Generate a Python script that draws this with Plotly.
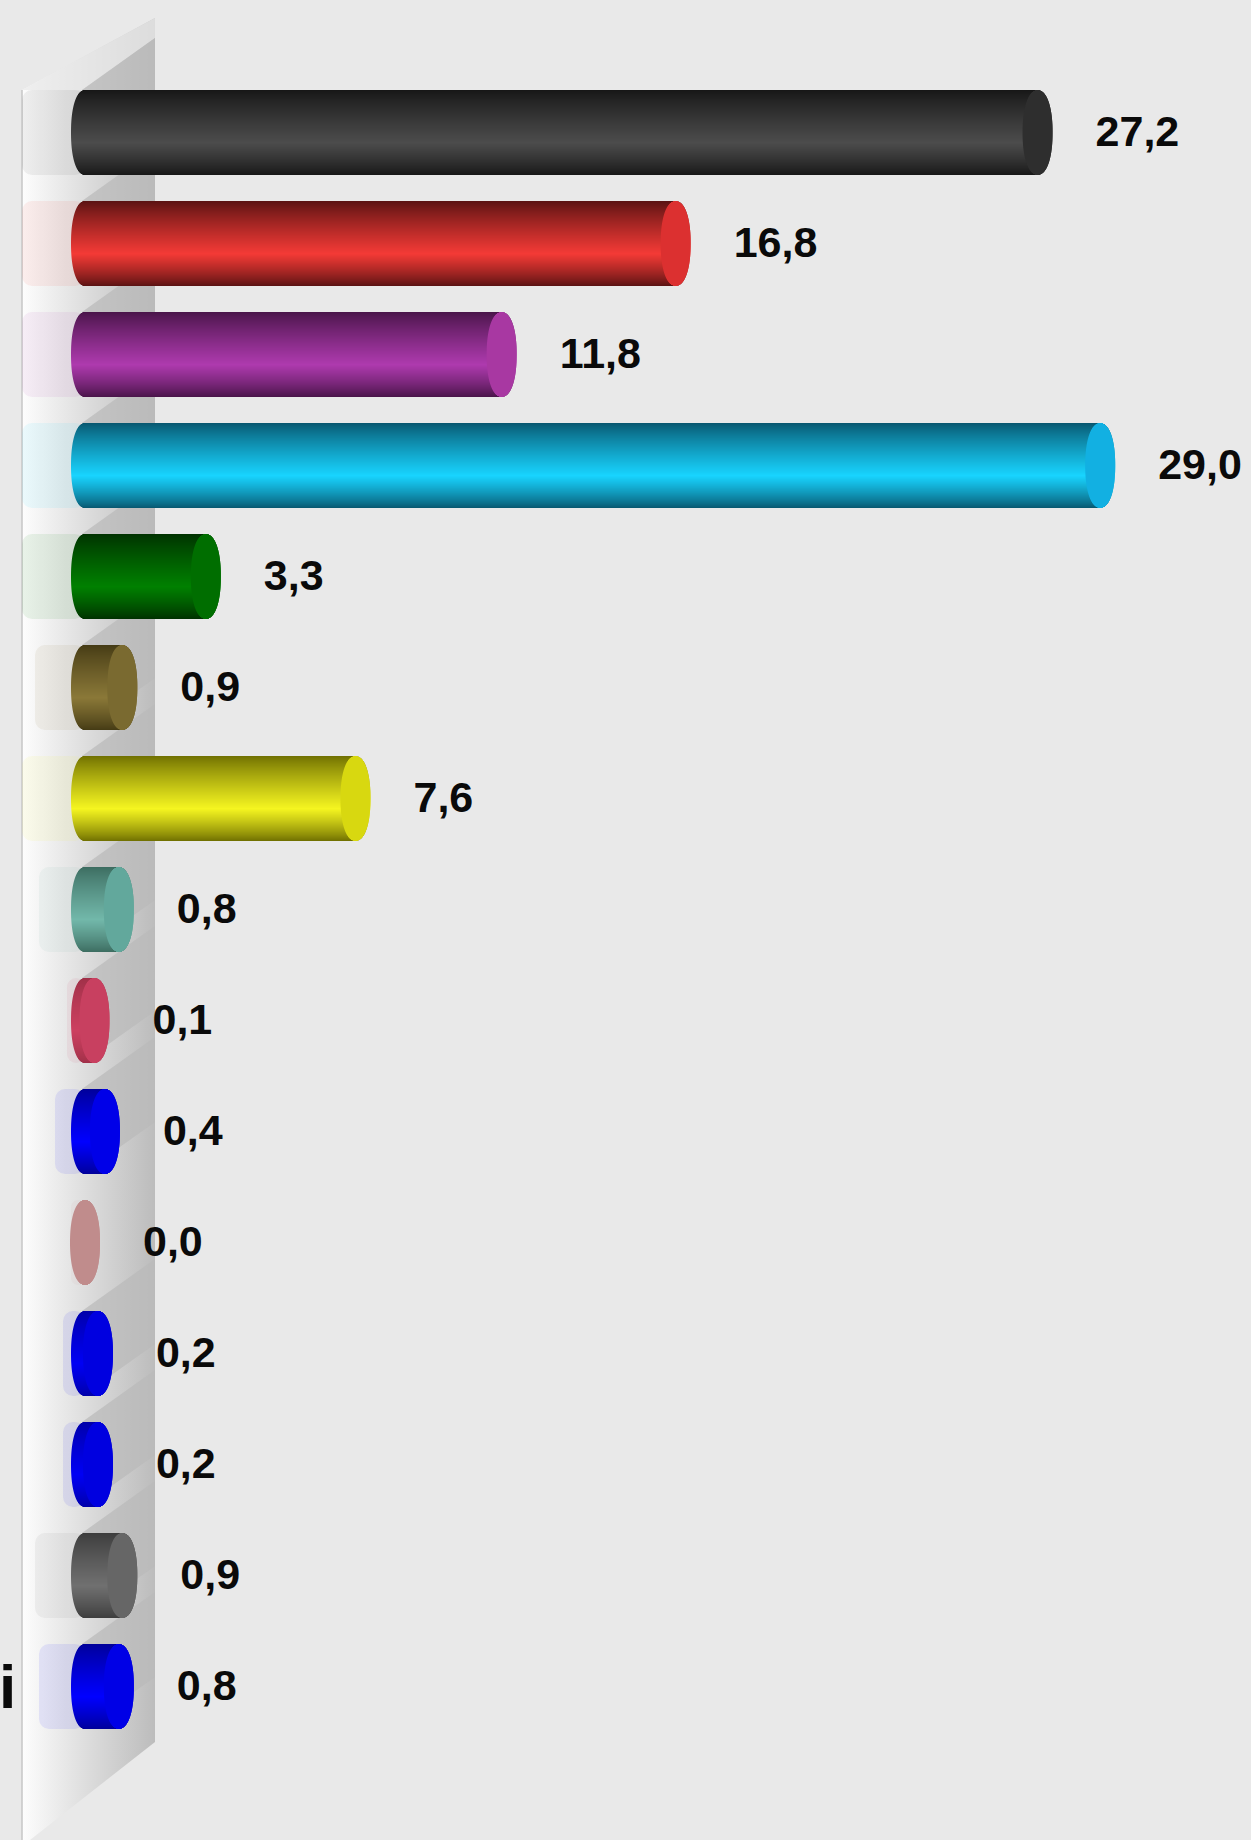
import plotly.graph_objects as go

# ---- data ----
labels = ["27,2", "16,8", "11,8", "29,0", "3,3", "0,9", "7,6", "0,8", "0,1", "0,4", "0,0", "0,2", "0,2", "0,9", "0,8"]
values = [27.2, 16.8, 11.8, 29.0, 3.3, 0.9, 7.6, 0.8, 0.1, 0.4, 0.0, 0.2, 0.2, 0.9, 0.8]
category_ticks = [""] * 14 + ["i"]
highlight = ["#4c4c4c", "#f43a36", "#ae3aae", "#18d4ff", "#008000", "#8a7838", "#f5f520", "#72b8aa", "#cc4060",
             "#0000ff", "#c89494", "#0000f4", "#0000f4", "#707070", "#0000ff"]
shade = ["#161616", "#581212", "#481448", "#08566e", "#003000", "#443a14", "#6e6e00", "#3c6c60", "#a03048",
         "#000098", "#b88888", "#0000a8", "#0000a8", "#3c3c3c", "#000098"]
cap_color = ["#2e2e2e", "#dc3030", "#a838a2", "#12b0e2", "#006e00", "#7a6a30", "#d8d810", "#62a89c", "#c84060",
             "#0000e8", "#c08c8c", "#0000e0", "#0000e0", "#666666", "#0000e6"]

# ---- geometry in page pixels ----
W, H = 1251, 1840
PX_PER_UNIT = 34.8
ZERO_PX = 91.0
FIRST_PX, STEP_PX = 132.5, 111.0
BAR_PX, BODY_RX_PX, CAP_RX_PX = 85.0, 14.0, 15.0
LEFT_CAP_PX = 85.0
WALL_LEFT_PX, WALL_RIGHT_PX = 22.0, 155.0
SHADOW_RISE_PX = 52.0
N_BANDS = 85
LABEL_GAP_PX = 58.0
BG = "#e9e9e9"


def dx(px):
    return (px - ZERO_PX) / PX_PER_UNIT


def dy(py):
    return (py - FIRST_PX) / STEP_PX


def rgb(c):
    return tuple(int(c[i:i + 2], 16) for i in (1, 3, 5))


def mix(a, b, f):
    ra, rb = rgb(a), rgb(b)
    return "rgb(%d,%d,%d)" % tuple(round(x + (y - x) * f) for x, y in zip(ra, rb))


def band_color(i, t):
    # t runs 0 (top) to 1 (bottom); brightest a little under the middle
    peak = 0.62
    if t < peak:
        f = (t / peak) ** 0.85
    else:
        f = ((1 - t) / (1 - peak)) ** 0.85
    return mix(shade[i], highlight[i], f)


def half_width(t, rx):
    u = abs(2 * t - 1)
    return rx * max(0.15, (1 - u ** 2.2) ** (1 / 2.2)) / PX_PER_UNIT


idx = list(range(len(values)))
# a zero-length bar collapses on to its starting ellipse
bar_end = [v if v > 0 else dx(LEFT_CAP_PX) for v in values]
fig = go.Figure()

# wall, on the lower pair of axes
wall_x = [dx(WALL_LEFT_PX), dx(WALL_RIGHT_PX), dx(WALL_RIGHT_PX), dx(30), dx(WALL_LEFT_PX), dx(WALL_LEFT_PX)]
wall_y = [dy(90), dy(18), dy(1742), dy(1840), dy(1840), dy(90)]
fig.add_trace(go.Scatter(
    x=wall_x, y=wall_y, mode="lines", fill="toself", line=dict(width=0), hoverinfo="skip", showlegend=False,
    fillgradient=dict(type="horizontal", start=dx(WALL_LEFT_PX), stop=dx(WALL_RIGHT_PX),
                      colorscale=[[0, "#fdfdfd"], [0.5, "#dcdcdc"], [1, "#bcbcbc"]])))
fig.add_trace(go.Scatter(
    x=[dx(WALL_LEFT_PX), dx(WALL_RIGHT_PX), dx(WALL_RIGHT_PX), dx(82), dx(WALL_LEFT_PX)],
    y=[dy(90), dy(18), dy(38), dy(90), dy(90)],
    mode="lines", fill="toself", line=dict(width=0), hoverinfo="skip", showlegend=False,
    fillcolor="rgba(233,233,233,0.72)"))
# each bar throws a slanted band on the wall; a zero bar throws none
for i in idx:
    if values[i] <= 0:
        continue
    top = FIRST_PX + STEP_PX * i - BAR_PX / 2
    bottom = top + BAR_PX
    fig.add_trace(go.Scatter(
        x=[dx(82), dx(WALL_RIGHT_PX), dx(WALL_RIGHT_PX), dx(82), dx(82)],
        y=[dy(top), dy(top - SHADOW_RISE_PX), dy(bottom - SHADOW_RISE_PX), dy(bottom), dy(top)],
        mode="lines", fill="toself", line=dict(width=0), hoverinfo="skip", showlegend=False,
        fillcolor="rgba(186,186,186,0.72)"))
fig.add_trace(go.Scatter(x=[dx(WALL_LEFT_PX), dx(WALL_LEFT_PX)], y=[dy(90), dy(1840)], mode="lines",
                         line=dict(color="#c6c6c6", width=1.5), hoverinfo="skip", showlegend=False))

# reflection of each bar on the wall
reflect_px = [min(14 + 40 * v, LEFT_CAP_PX - WALL_LEFT_PX) for v in values]
fig.add_trace(go.Bar(
    y=idx, orientation="h", base=[dx(LEFT_CAP_PX)] * len(values),
    x=[-r / PX_PER_UNIT for r in reflect_px], width=BAR_PX / STEP_PX,
    marker=dict(color=["rgba(%d,%d,%d,0.08)" % rgb(c) for c in highlight], line=dict(width=0), cornerradius=10),
    hoverinfo="skip", showlegend=False, xaxis="x2", yaxis="y2"))

# plain value bars
fig.add_trace(go.Bar(
    y=idx, x=values, orientation="h", width=0.6 * BAR_PX / STEP_PX,
    marker=dict(color=highlight, line=dict(width=0)), hoverinfo="skip", showlegend=False, xaxis="x2", yaxis="y2"))

# cylinder body and cap as thin horizontal slices
band_h = BAR_PX / STEP_PX / N_BANDS
for k in range(N_BANDS):
    t = (k + 0.5) / N_BANDS
    left = dx(LEFT_CAP_PX) - half_width(t, BODY_RX_PX)
    off = -BAR_PX / STEP_PX / 2 + k * band_h
    fig.add_trace(go.Bar(
        y=idx, orientation="h", base=[left] * len(values),
        x=[e + half_width(t, CAP_RX_PX) - left for e in bar_end],
        width=band_h, offset=off,
        marker=dict(color=[band_color(i, t) for i in idx], line=dict(width=0)),
        hoverinfo="skip", showlegend=False, xaxis="x2", yaxis="y2"))
for k in range(N_BANDS):
    t = (k + 0.5) / N_BANDS
    half = half_width(t, CAP_RX_PX)
    off = -BAR_PX / STEP_PX / 2 + k * band_h
    fig.add_trace(go.Bar(
        y=idx, orientation="h", base=[e - half for e in bar_end], x=[2 * half] * len(values),
        width=band_h, offset=off,
        marker=dict(color=cap_color, line=dict(width=0)),
        hoverinfo="skip", showlegend=False, xaxis="x2", yaxis="y2"))

# value labels
fig.add_trace(go.Scatter(
    x=[e + LABEL_GAP_PX / PX_PER_UNIT for e in bar_end], y=[i + 3 / STEP_PX for i in idx], mode="text", text=labels,
    textposition="middle right",
    textfont=dict(family="Liberation Sans", size=43, color="#0a0a0a", weight="bold"),
    hoverinfo="skip", showlegend=False, xaxis="x2", yaxis="y2"))

x_range = [dx(0), dx(W)]
y_range = [dy(H), dy(0)]
fig.update_layout(
    width=W, height=H, margin=dict(l=0, r=0, t=0, b=0), paper_bgcolor=BG, plot_bgcolor=BG,
    barmode="overlay", showlegend=False,
    xaxis=dict(range=x_range, visible=False, fixedrange=True),
    yaxis=dict(range=y_range, visible=False, fixedrange=True),
    xaxis2=dict(range=x_range, visible=False, fixedrange=True, overlaying="x"),
    yaxis2=dict(range=y_range, showgrid=False, zeroline=False, showline=False, fixedrange=True,
                overlaying="y", tickmode="array", tickvals=idx, ticktext=category_ticks, ticks="",
                ticklabelposition="inside", ticklabelstandoff=-4,
                tickfont=dict(family="Liberation Sans", size=62, color="#0a0a0a", weight="bold")),
)
fig.write_html("out.html", post_script="document.body.style.margin='0';", config={"displayModeBar": False})
